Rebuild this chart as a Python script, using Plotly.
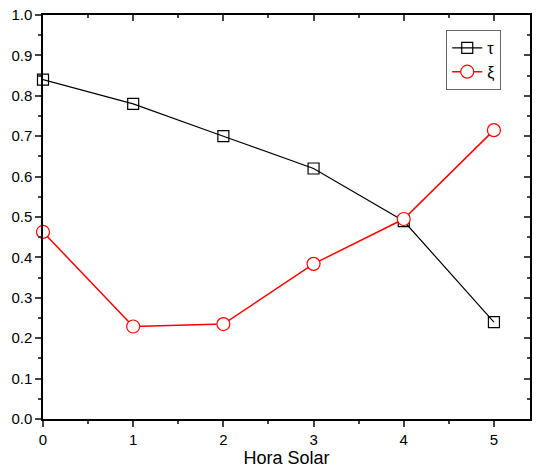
import plotly.graph_objects as go

hours = [0, 1, 2, 3, 4, 5]
tau = [0.84, 0.78, 0.70, 0.62, 0.49, 0.24]
xi = [0.463, 0.229, 0.235, 0.384, 0.495, 0.715]
x_title = "Hora Solar"

fig = go.Figure()
fig.add_trace(go.Scatter(x=hours, y=tau, name="τ", mode="lines+markers",
                         line=dict(color="black", width=1.2),
                         marker=dict(symbol="square-open", size=11, color="black",
                                     line=dict(width=1.2)),
                         cliponaxis=False))
fig.add_trace(go.Scatter(x=hours, y=xi, name="ξ", mode="lines+markers",
                         line=dict(color="red", width=1.5),
                         marker=dict(symbol="circle", size=13, color="white",
                                     line=dict(color="red", width=1.2)),
                         cliponaxis=False))
fig.add_trace(go.Scatter(x=[None], y=[None], xaxis="x2", yaxis="y2",
                         showlegend=False, hoverinfo="skip"))

font = dict(family="Liberation Sans, Arial", size=15, color="black")
xr = [0, 5.4]
yr = [0, 1.0]
fig.update_layout(
    width=537, height=470,
    margin=dict(l=43, r=7, t=15, b=51),
    paper_bgcolor="white", plot_bgcolor="white",
    font=font,
    showlegend=True,
    legend=dict(x=0.828, y=0.963, xanchor="left", yanchor="top",
                bgcolor="white", bordercolor="#666", borderwidth=1,
                font=dict(size=16), tracegroupgap=0, itemwidth=30),
    xaxis=dict(range=xr, dtick=1, tick0=0, ticks="outside", ticklen=6, tickwidth=1.5,
               showline=True, linewidth=1.5, linecolor="black", showgrid=False,
               zeroline=False, automargin=False,
               minor=dict(dtick=0.5, ticks="outside", ticklen=3, tickwidth=1.5),
               title=dict(text=x_title, font=dict(size=18), standoff=2)),
    yaxis=dict(range=yr, dtick=0.1, tick0=0, tickformat=".1f", ticks="outside",
               ticklen=6, tickwidth=1.5, showline=True, linewidth=1.5,
               linecolor="black", showgrid=False, zeroline=False, automargin=False,
               minor=dict(dtick=0.05, ticks="outside", ticklen=3, tickwidth=1.5)),
    xaxis2=dict(range=xr, overlaying="x", side="top", anchor="y2", dtick=1, tick0=0,
                ticks="inside", ticklen=6, tickwidth=1.5, showticklabels=False,
                showline=True, linewidth=1.5, linecolor="black", showgrid=False,
                zeroline=False, automargin=False,
                minor=dict(dtick=0.5, ticks="inside", ticklen=3, tickwidth=1.5)),
    yaxis2=dict(range=yr, overlaying="y", side="right", anchor="x2", dtick=0.1, tick0=0,
                ticks="inside", ticklen=6, tickwidth=1.5, showticklabels=False,
                showline=True, linewidth=1.5, linecolor="black", showgrid=False,
                zeroline=False, automargin=False,
                minor=dict(dtick=0.05, ticks="inside", ticklen=3, tickwidth=1.5)),
)

fig.write_html("out.html", config={"displayModeBar": False},
               post_script="document.body.style.margin='0';document.body.style.overflow='hidden';")
